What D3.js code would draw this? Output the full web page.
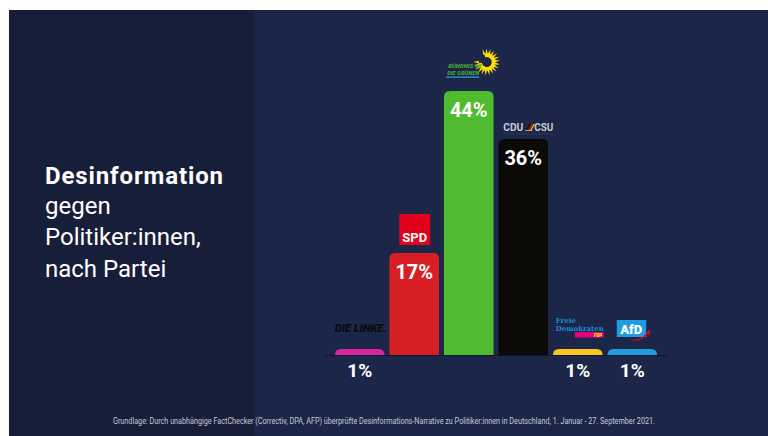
<!DOCTYPE html>
<html><head><meta charset="utf-8">
<script src="https://cdn.jsdelivr.net/npm/d3@7"></script>
<style>html,body{margin:0;padding:0;background:#fff;}svg{display:block;}</style>
</head><body>
<svg id="chart" width="768" height="436"></svg>
<script>
const parties = ["DIE LINKE", "SPD", "GRÜNE", "CDU/CSU", "FDP", "AfD"];
const values = [1, 17, 44, 36, 1, 1];
const valueLabels = ["1%", "17%", "44%", "36%", "1%", "1%"];
const barColors = ["#d8249e", "#d81f26", "#50bb2f", "#0c0a07", "#f8c623", "#1d9de0"];
const titleLines = ["Desinformation", "gegen", "Politiker:innen,", "nach Partei"];
const sourceNote = "Grundlage: Durch unabhängige FactChecker (Correctiv, DPA, AFP) überprüfte Desinformations-Narrative zu Politiker:innen in Deutschland, 1. Januar - 27. September 2021.";

const svg = d3.select("#chart");
svg.append("rect").attr("x", 9).attr("y", 10).attr("width", 759).attr("height", 426).attr("fill", "#1b2649");
svg.append("rect").attr("x", 9).attr("y", 10).attr("width", 245).attr("height", 426).attr("fill", "#171e3a");

// title
const title = svg.append("text").attr("fill", "#fff").style("font-family", "Roboto, sans-serif").style("font-size", "24px");
const baselines = [184, 214, 245, 277];
titleLines.forEach((t, i) => {
  const ts = title.append("tspan").attr("x", 45).attr("y", baselines[i]).style("font-weight", i === 0 ? 700 : 400).text(t);
  if (i === 0) ts.attr("textLength", 178).attr("lengthAdjust", "spacing");
});

const x = d3.scaleBand().domain(parties).range([332.5, 659.5]).paddingInner(0.09).paddingOuter(0.045);
const y = d3.scaleLinear().domain([0, 45]).range([355, 85]);

function topRounded(x0, y0, w, h, r) {
  r = Math.min(r, h, w / 2);
  return `M${x0},${y0 + h}V${y0 + r}Q${x0},${y0} ${x0 + r},${y0}H${x0 + w - r}Q${x0 + w},${y0} ${x0 + w},${y0 + r}V${y0 + h}Z`;
}

const data = parties.map((p, i) => ({ p, v: values[i], label: valueLabels[i], c: barColors[i] }));

svg.append("g").selectAll("path").data(data).join("path")
  .attr("d", d => topRounded(x(d.p), y(d.v), x.bandwidth(), y(0) - y(d.v), 6))
  .attr("fill", d => d.c);

// baseline
svg.append("line").attr("x1", 324).attr("x2", 667).attr("y1", y(0) + 0.5).attr("y2", y(0) + 0.5)
  .attr("stroke", "#0f1631").attr("stroke-width", 1.2);

// value labels
svg.append("g").selectAll("text").data(data).join("text")
  .attr("x", d => x(d.p) + x.bandwidth() / 2)
  .attr("y", d => d.v > 5 ? y(d.v) + 26 : y(0) + 22)
  .attr("text-anchor", "middle")
  .attr("fill", "#fff")
  .style("font-family", "Roboto, sans-serif").style("font-weight", 700)
  .style("font-size", d => d.v > 5 ? "20px" : "19px")
  .text(d => d.label);

// logos
const cx = p => x(p) + x.bandwidth() / 2;
const topOf = i => y(values[i]);
const g = svg.append("g").style("font-family", "Roboto, sans-serif");

// DIE LINKE
g.append("text").attr("x", cx(parties[0]) + 1).attr("y", topOf(0) - 17).attr("text-anchor", "middle")
  .attr("fill", "#0b0b0b").style("font-size", "11.5px").style("font-weight", 900).style("font-style", "italic")
  .attr("textLength", 52).attr("lengthAdjust", "spacingAndGlyphs").text("DIE LINKE.");

// SPD
{
  const c = cx(parties[1]);
  const t = topOf(1);
  g.append("rect").attr("x", c - 15).attr("y", t - 39).attr("width", 31).attr("height", 31).attr("fill", "#e3001b");
  g.append("text").attr("x", c + 0.5).attr("y", t - 11).attr("text-anchor", "middle").attr("fill", "#fff")
    .style("font-size", "13px").style("font-weight", 700).text("SPD");
}

// GRÜNE
{
  const c = cx(parties[2]);
  const t = topOf(2);
  const fx = c + 18, fy = t - 29;
  const fl = g.append("g");
  const nP = 18;
  for (let k = 0; k < nP; k++) {
    const a = -Math.PI * 0.6 + k * (Math.PI * 1.6 / (nP - 1));
    const r1 = 8, r2 = 13.5;
    const da = 0.15;
    fl.append("path").attr("d",
      `M${fx + r1 * Math.cos(a - da)},${fy + r1 * Math.sin(a - da)}L${fx + r2 * Math.cos(a)},${fy + r2 * Math.sin(a)}L${fx + r1 * Math.cos(a + da)},${fy + r1 * Math.sin(a + da)}Z`)
      .attr("fill", "#ffe100");
  }
  fl.append("path").attr("d", d3.arc()({ innerRadius: 5, outerRadius: 8.5, startAngle: -0.3, endAngle: Math.PI * 1.45 }))
    .attr("transform", `translate(${fx},${fy})`).attr("fill", "#ffe100");
  g.append("text").attr("x", c - 20.5).attr("y", t - 23).attr("fill", "#46a235").style("font-size", "5.5px").style("font-weight", 900)
    .style("font-style", "italic").attr("textLength", 33).attr("lengthAdjust", "spacingAndGlyphs").text("BÜNDNIS 90");
  g.append("text").attr("x", c - 21.5).attr("y", t - 16).attr("fill", "#46a235").style("font-size", "5.5px").style("font-weight", 900)
    .style("font-style", "italic").attr("textLength", 32).attr("lengthAdjust", "spacingAndGlyphs").text("DIE GRÜNEN");
  g.append("rect").attr("x", c - 22.5).attr("y", t - 14.5).attr("width", 33).attr("height", 1.2).attr("fill", "#2aa7dd");
}

// CDU/CSU
{
  const c = cx(parties[3]);
  const t = topOf(3);
  const bx = c - 20, by = t - 8;
  g.append("text").attr("x", bx).attr("y", by).attr("fill", "#c9cbd1").style("font-size", "10px").style("font-weight", 700)
    .attr("textLength", 20).attr("lengthAdjust", "spacingAndGlyphs").text("CDU");
  const fx = bx + 22;
  [["#111", 0], ["#dd0000", 2.2], ["#f5c400", 4.4]].forEach(([col, off]) => {
    g.append("path").attr("d", `M${fx + off},${by}L${fx + off + 4},${by - 7}L${fx + off + 5.5},${by - 7}L${fx + off + 1.5},${by}Z`).attr("fill", col);
  });
  g.append("rect").attr("x", fx).attr("y", by - 0.8).attr("width", 7).attr("height", 0.8).attr("fill", "#c9cbd1");
  g.append("text").attr("x", fx + 9).attr("y", by).attr("fill", "#c9cbd1").style("font-size", "10px").style("font-weight", 700)
    .attr("textLength", 19).attr("lengthAdjust", "spacingAndGlyphs").text("CSU");
  g.append("text").attr("x", bx).attr("y", by + 4).attr("fill", "#3a3f55").style("font-size", "2.8px")
    .attr("textLength", 50).attr("lengthAdjust", "spacingAndGlyphs").text("Fraktion im Deutschen Bundestag");
}

// FDP
{
  const c = cx(parties[4]);
  const t = topOf(4);
  const lx = c - 22;
  g.append("text").attr("x", lx).attr("y", t - 26).attr("fill", "#1a8ed0").style("font-family", "'DejaVu Serif', serif")
    .style("font-size", "7px").style("font-weight", 700).text("Freie");
  g.append("text").attr("x", lx).attr("y", t - 18.5).attr("fill", "#1a8ed0").style("font-family", "'DejaVu Serif', serif")
    .style("font-size", "7px").style("font-weight", 700).attr("textLength", 48).attr("lengthAdjust", "spacingAndGlyphs").text("Demokraten");
  g.append("rect").attr("x", lx + 19).attr("y", t - 17).attr("width", 29).attr("height", 5.5).attr("fill", "#e5007d");
  g.append("text").attr("x", lx + 46.5).attr("y", t - 12.3).attr("text-anchor", "end").attr("fill", "#ffed00")
    .style("font-size", "4.5px").style("font-weight", 900).text("FDP");
}

// AfD
{
  const c = cx(parties[5]);
  const t = topOf(5);
  g.append("rect").attr("x", c - 15.5).attr("y", t - 29).attr("width", 29.5).attr("height", 17).attr("fill", "#1d9de0");
  g.append("text").attr("x", c - 1).attr("y", t - 15.5).attr("text-anchor", "middle").attr("fill", "#fff")
    .style("font-size", "13px").style("font-weight", 900).text("AfD");
  g.append("path").attr("d", `M${c - 4},${t - 10}Q${c + 8},${t - 7} ${c + 15},${t - 17}L${c + 17.5},${t - 19.5}L${c + 17.5},${t - 13.5}L${c + 15.5},${t - 15}Q${c + 7},${t - 5} ${c - 4},${t - 10}Z`)
    .attr("fill", "#e30613");
}

// source note
svg.append("text").attr("x", 384).attr("y", 424).attr("text-anchor", "middle").attr("fill", "#c6c9d4")
  .style("font-family", "'Roboto', sans-serif").style("font-size", "8.5px")
  .attr("textLength", 542).attr("lengthAdjust", "spacingAndGlyphs").text(sourceNote);
</script>
</body></html>
